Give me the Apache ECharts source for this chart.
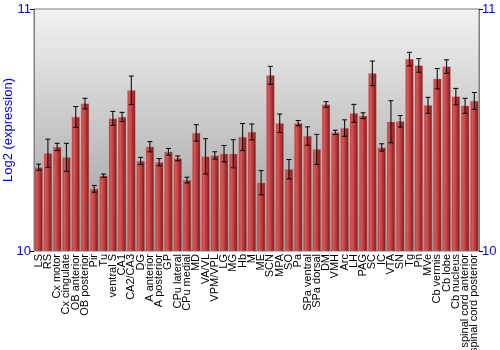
<!DOCTYPE html>
<html><head><meta charset="utf-8">
<script src="https://cdn.jsdelivr.net/npm/echarts@6/dist/echarts.min.js"></script>
<style>html,body{margin:0;padding:0;background:#fff}#c{width:500px;height:350px}</style>
</head><body><div id="c"></div>
<script>
const categories = ["LS","RS","Cx motor","Cx cingulate","OB anterior","OB posterior","Pir","Tu","ventral S","CA1","CA2/CA3","DG","A anterior","A posterior","GP","CPu lateral","CPu medial","MD","VA/VL","VPM/VPL","LG","MG","Hb","M","ME","SCN","MPA","SO","Pa","SPa ventral","SPa dorsal","DM","VMH","Arc","LH","PAG","SC","IC","VTA","SN","Tg","Pn","MVe","Cb vermis","Cb lobe","Cb nucleus","spinal cord anterior","spinal cord posterior"];
const values = [10.346,10.404,10.430,10.387,10.554,10.609,10.257,10.311,10.548,10.554,10.664,10.372,10.431,10.367,10.410,10.383,10.293,10.488,10.391,10.395,10.402,10.402,10.471,10.492,10.282,10.726,10.528,10.338,10.528,10.475,10.420,10.605,10.490,10.508,10.569,10.559,10.734,10.428,10.534,10.536,10.793,10.767,10.602,10.712,10.762,10.638,10.600,10.620];
const errors = [0.013,0.058,0.015,0.058,0.043,0.022,0.014,0.007,0.029,0.019,0.059,0.015,0.021,0.015,0.014,0.010,0.012,0.034,0.073,0.015,0.034,0.058,0.056,0.033,0.050,0.037,0.038,0.040,0.011,0.038,0.062,0.012,0.009,0.034,0.037,0.012,0.051,0.015,0.087,0.024,0.028,0.028,0.033,0.042,0.028,0.034,0.031,0.035];
const yTicks = [10, 11];

const errData = values.map((v, i) => [i, v - errors[i], v + errors[i]]);
const chart = echarts.init(document.getElementById('c'), null, {renderer: 'canvas'});
const blue = '#0000ff';
const font = 'Liberation Sans, Arial, sans-serif';
chart.setOption({
  animation: false,
  grid: {left: 34, right: 21, top: 9, bottom: 99, outerBoundsMode: 'none', containLabel: false,
    show: true, borderColor: '#808080', borderWidth: 1,
    backgroundColor: {type: 'linear', x: 0, y: 0, x2: 0, y2: 1, colorStops: [{offset: 0, color: '#f2f2f2'}, {offset: 1, color: '#9a9a9a'}]}},
  xAxis: {type: 'category', data: categories,
    axisLine: {show: false}, axisTick: {show: false},
    axisLabel: {rotate: 90, interval: 0, fontSize: 11, color: '#000', fontFamily: font, margin: 3}},
  yAxis: [
    {type: 'value', min: yTicks[0], max: yTicks[1], interval: 1, position: 'left',
     name: 'Log2 (expression)', nameLocation: 'middle', nameGap: 19, nameMoveOverlap: false,
     nameTextStyle: {color: blue, fontSize: 13, fontFamily: font},
     axisLine: {show: true, lineStyle: {color: '#808080'}}, axisTick: {show: true, length: 4, lineStyle: {color: '#000'}},
     splitLine: {show: false},
     axisLabel: {color: blue, fontSize: 13, margin: 3, fontFamily: font}},
    {type: 'value', min: yTicks[0], max: yTicks[1], interval: 1, position: 'right',
     axisLine: {show: true, lineStyle: {color: '#808080'}}, axisTick: {show: true, length: 4, lineStyle: {color: '#000'}},
     splitLine: {show: false},
     axisLabel: {color: blue, fontSize: 13, margin: 3, fontFamily: font}}
  ],
  series: [
    {type: 'bar', data: values, barWidth: '88%',
     itemStyle: {
       color: {type: 'linear', x: 0, y: 0, x2: 1, y2: 0, colorStops: [
         {offset: 0, color: '#b03535'}, {offset: 0.25, color: '#d65858'}, {offset: 0.6, color: '#b83838'}, {offset: 1, color: '#7d1515'}]},
       borderColor: 'rgba(210,130,130,0.6)', borderWidth: 0.5}},
    {type: 'custom', data: errData, z: 10,
     renderItem: function (params, api) {
       const i = api.value(0);
       const lo = api.coord([i, api.value(1)]);
       const hi = api.coord([i, api.value(2)]);
       const cap = 2.5;
       const st = {stroke: '#000', lineWidth: 1};
       return {type: 'group', children: [
         {type: 'line', shape: {x1: hi[0], y1: hi[1], x2: lo[0], y2: lo[1]}, style: {stroke: 'rgba(0,0,0,0.85)', lineWidth: 1.2}},
         {type: 'line', shape: {x1: hi[0]-cap, y1: hi[1], x2: hi[0]+cap, y2: hi[1]}, style: st},
         {type: 'line', shape: {x1: lo[0]-cap, y1: lo[1], x2: lo[0]+cap, y2: lo[1]}, style: st}
       ]};
     }}
  ]
});
</script></body></html>
